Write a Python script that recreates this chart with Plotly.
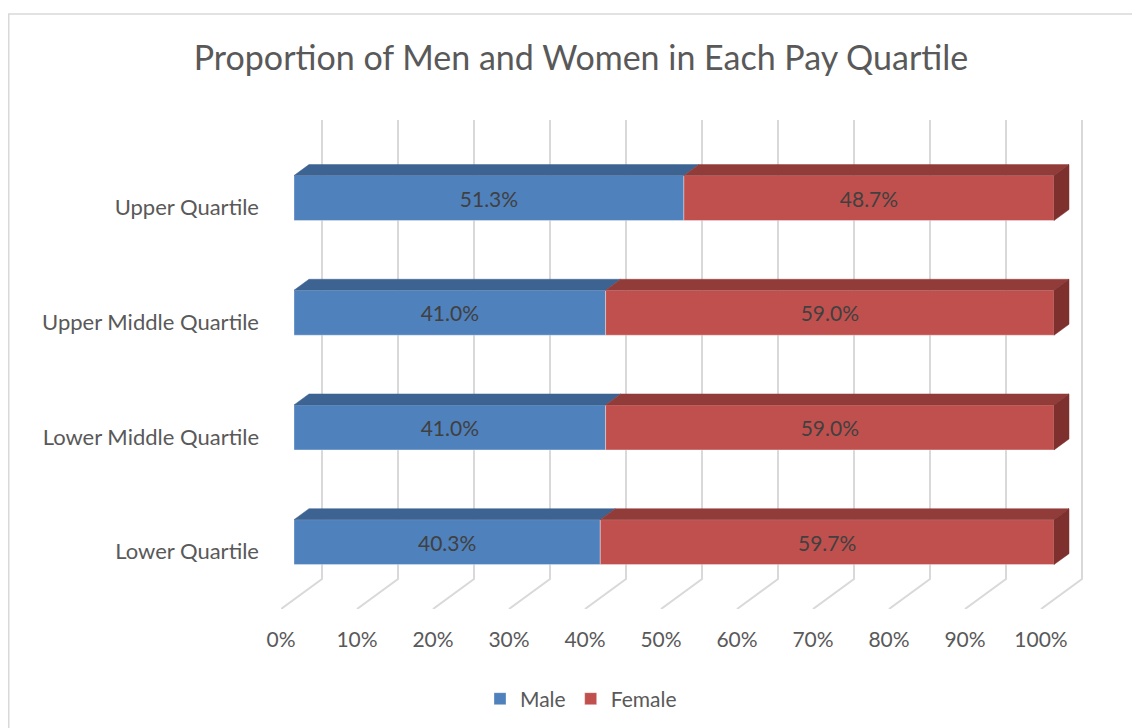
import plotly.graph_objects as go

# ---------------- data ----------------
categories = ["Lower Quartile", "Lower Middle Quartile", "Upper Middle Quartile", "Upper Quartile"]
male = [40.3, 41.0, 41.0, 51.3]
female = [59.7, 59.0, 59.0, 48.7]
x_tick_vals = [0, 10, 20, 30, 40, 50, 60, 70, 80, 90, 100]
x_tick_labels = ["0%", "10%", "20%", "30%", "40%", "50%", "60%", "70%", "80%", "90%", "100%"]
title_text = "Proportion of Men and Women in Each Pay Quartile"

# ---------------- layout / style constants ----------------
W, H = 1140, 728
OFF = 8  # page body margin offset
PLOT_W, PLOT_H = 806, 489
ML = 281 - OFF
MT = 120 - OFF
MR = W - ML - PLOT_W
MB = H - MT - PLOT_H
PX_PER_PCT = 7.6
PX_PER_CAT = 114.7
XR = [0, PLOT_W / PX_PER_PCT]
YR = [-0.5, -0.5 + PLOT_H / PX_PER_CAT]

DX = 41 / PX_PER_PCT   # full floor depth (x, data units)
DY = 30 / PX_PER_CAT   # full floor depth (y, data units)
F0, F1 = 0.317, 0.683  # bar front/back as fraction of depth
BAR_H = 0.392

GRID = "#d9d9d9"
TXT = "#595959"
FONT = "Lato"
M_FRONT, M_TOP = "#4f81bd", "#3c6391"
F_FRONT, F_TOP, F_SIDE = "#c0504d", "#923c3a", "#7d302e"

fig = go.Figure()

# ---------------- gridlines (back wall + floor) ----------------
gx, gy = [], []
for v in x_tick_vals:
    gx += [v, v + DX, v + DX, None]
    gy += [YR[0], YR[0] + DY, YR[1], None]
fig.add_trace(go.Scatter(x=gx, y=gy, mode="lines", line=dict(color=GRID, width=2),
                         hoverinfo="skip", showlegend=False, xaxis="x", yaxis="y"))

# ---------------- bars (front faces) ----------------
yc = [i + F0 * DY for i in range(len(categories))]
x_off = F0 * DX
fig.add_trace(go.Bar(
    name="Male", orientation="h", x=male, y=yc, base=[x_off] * len(male), width=BAR_H,
    marker=dict(color=M_FRONT, line=dict(color="rgba(255,255,255,0.35)", width=1)),
    texttemplate="%{x:.1f}%", textposition="inside", insidetextanchor="middle", textangle=0,
    textfont=dict(family=FONT, size=21, color="#404040"),
    hoverinfo="skip", xaxis="x2", yaxis="y2"))
fig.add_trace(go.Bar(
    name="Female", orientation="h", x=female, y=yc, base=[x_off + m for m in male], width=BAR_H,
    marker=dict(color=F_FRONT, line=dict(color="rgba(255,255,255,0.35)", width=1)),
    texttemplate="%{x:.1f}%", textposition="inside", insidetextanchor="middle", textangle=0,
    textfont=dict(family=FONT, size=21, color="#404040"),
    hoverinfo="skip", xaxis="x2", yaxis="y2"))

# ---------------- 3D top & side faces ----------------
bdx = (F1 - F0) * DX
bdy = (F1 - F0) * DY


def poly(xs, ys, color):
    fig.add_trace(go.Scatter(x=xs + [xs[0]], y=ys + [ys[0]], mode="lines", fill="toself",
                             fillcolor=color, line=dict(color=color, width=0.5),
                             hoverinfo="skip", showlegend=False, xaxis="x2", yaxis="y2"))


for i in range(len(categories)):
    yt = yc[i] + BAR_H / 2
    yb = yc[i] - BAR_H / 2
    m0, m1 = x_off, x_off + male[i]
    f0, f1 = m1, m1 + female[i]
    poly([m0, m1, m1 + bdx, m0 + bdx], [yt, yt, yt + bdy, yt + bdy], M_TOP)
    poly([f0, f1, f1 + bdx, f0 + bdx], [yt, yt, yt + bdy, yt + bdy], F_TOP)
    poly([f1, f1 + bdx, f1 + bdx, f1], [yb, yb + bdy, yt + bdy, yt], F_SIDE)

# ---------------- chart border (left + top only visible) ----------------
bx0 = (0.75 - ML) / PLOT_W
by1 = (MT + PLOT_H - (14 - OFF)) / PLOT_H
fig.add_shape(type="rect", xref="paper", yref="paper", x0=bx0, x1=1.2, y0=-0.4, y1=by1,
              line=dict(color=GRID, width=1.5), fillcolor="rgba(0,0,0,0)", layer="below")

fig.update_layout(
    width=W, height=H,
    margin=dict(l=ML, r=MR, t=MT, b=MB, autoexpand=False),
    paper_bgcolor="white", plot_bgcolor="white",
    barmode="overlay",
    font=dict(family=FONT, color=TXT, size=21),
    title=dict(text=title_text, x=(581 - OFF) / W, xanchor="center", xref="container",
               y=1 - (58 - OFF) / H, yanchor="middle", yref="container",
               font=dict(family=FONT, size=34, color=TXT)),
    xaxis=dict(range=XR, tickvals=x_tick_vals, ticktext=x_tick_labels, showgrid=False,
               zeroline=False, showline=False, ticks="", ticklabelstandoff=16,
               tickfont=dict(family=FONT, size=21, color=TXT), fixedrange=True),
    yaxis=dict(range=YR, tickvals=list(range(len(categories))), ticktext=categories,
               showgrid=False, zeroline=False, showline=False, ticks="", ticklabelstandoff=21,
               tickfont=dict(family=FONT, size=22, color=TXT), fixedrange=True),
    xaxis2=dict(range=XR, overlaying="x", visible=False, fixedrange=True),
    yaxis2=dict(range=YR, overlaying="y", visible=False, fixedrange=True),
    legend=dict(orientation="h", x=(581 - OFF - ML) / PLOT_W, xanchor="center",
                y=-((699 - OFF) - (MT + PLOT_H)) / PLOT_H,
                yanchor="middle", font=dict(family=FONT, size=21, color=TXT),
                bgcolor="rgba(0,0,0,0)"),
    hovermode=False,
)

fig.write_html("out.html")
